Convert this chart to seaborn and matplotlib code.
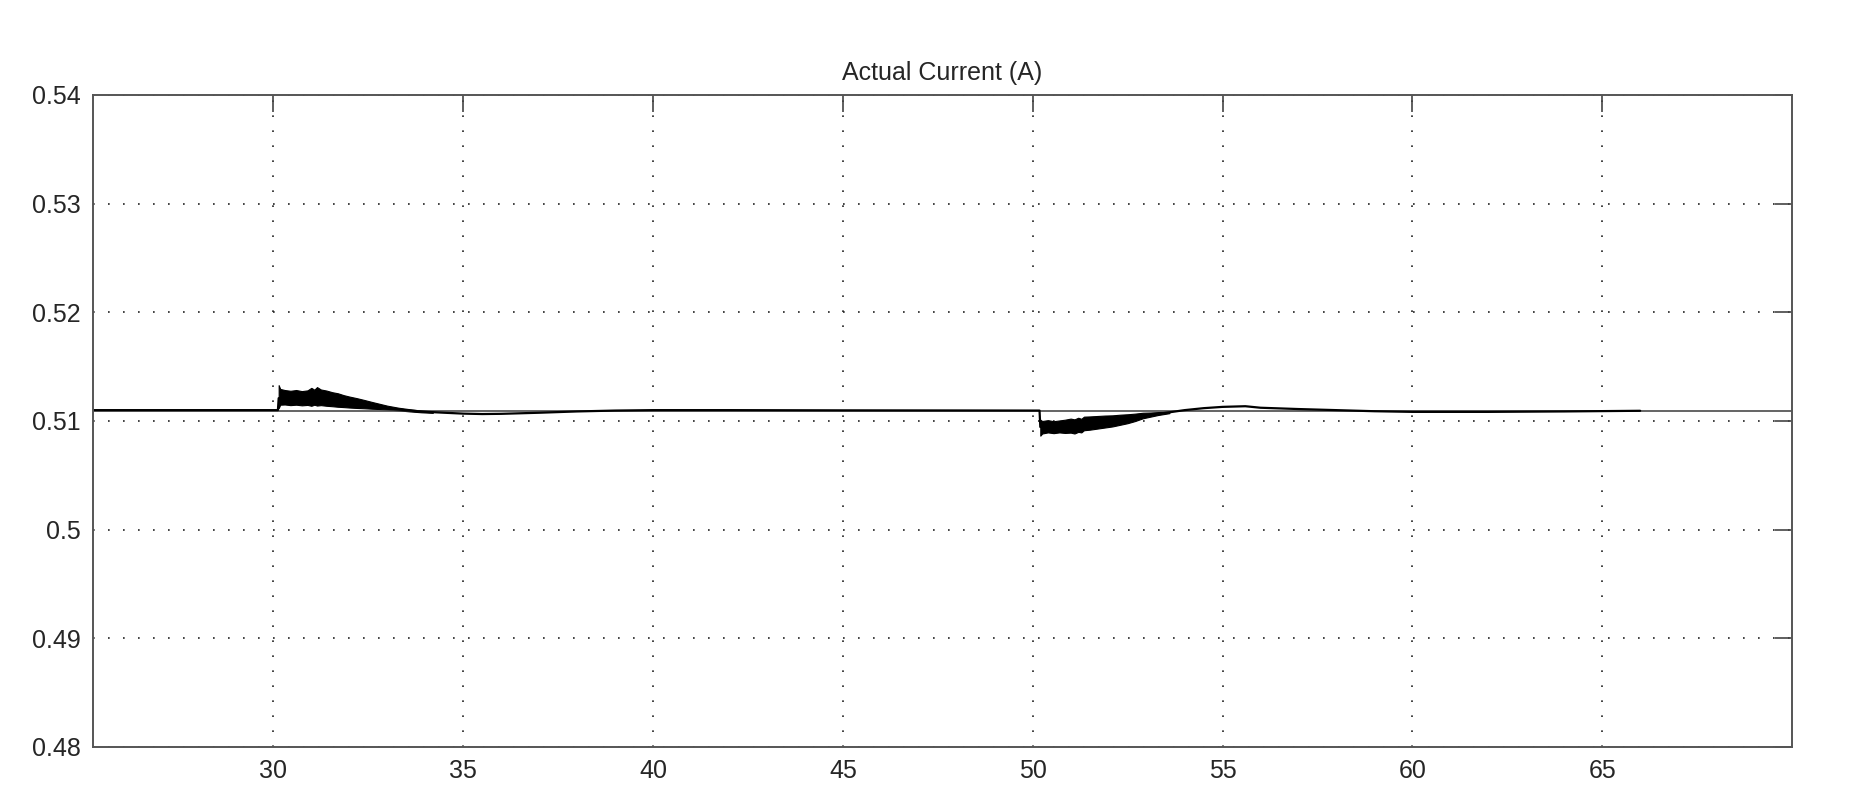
import matplotlib
matplotlib.use("Agg")
import matplotlib.pyplot as plt
import pandas as pd
import seaborn as sns

# measured current (centre of the trace)
t_trace = [25.25, 30.12, 30.14, 30.5, 31.0, 31.5, 32.0, 32.5, 33.0, 33.5, 34.0,
           34.5, 35.0, 35.5, 36.0, 37.0, 38.0, 39.0, 40.0, 42.0, 45.0, 48.0,
           50.18, 50.2, 50.5, 51.0, 51.5, 52.0, 52.5, 53.0, 53.5, 54.0, 54.5,
           55.0, 55.6, 56.0, 57.0, 58.0, 59.0, 60.0, 62.0, 64.0, 66.0]
i_trace = [0.51100, 0.51100, 0.51210, 0.51210, 0.51225, 0.51190, 0.51160,
           0.51135, 0.51118, 0.51098, 0.51085, 0.51076, 0.51068, 0.51064,
           0.51066, 0.51076, 0.51088, 0.51096, 0.51100, 0.51100, 0.51098,
           0.51097, 0.51096, 0.50945, 0.50945, 0.50960, 0.50990, 0.51005,
           0.51025, 0.51050, 0.51075, 0.51100, 0.51118, 0.51130, 0.51136,
           0.51122, 0.51110, 0.51100, 0.51090, 0.51084, 0.51084, 0.51088,
           0.51094]

# steady level line over the whole window
t_level = [25.25, 70.0]
i_level = [0.51095, 0.51095]

# ripple envelope after the step at 30 s
t_rip1 = [30.14, 30.18, 30.3, 30.45, 30.6, 30.75, 30.9, 31.0, 31.08, 31.15,
          31.25, 31.4, 31.55, 31.7, 31.85, 32.0, 32.2, 32.4, 32.6, 32.8,
          33.0, 33.3, 33.6, 33.9, 34.2]
hi_rip1 = [0.51330, 0.51295, 0.51285, 0.51278, 0.51285, 0.51275, 0.51282,
           0.51305, 0.51288, 0.51312, 0.51290, 0.51280, 0.51265, 0.51255,
           0.51238, 0.51225, 0.51210, 0.51193, 0.51175, 0.51158, 0.51141,
           0.51122, 0.51108, 0.51096, 0.51088]
lo_rip1 = [0.51118, 0.51150, 0.51152, 0.51146, 0.51150, 0.51144, 0.51148,
           0.51140, 0.51150, 0.51142, 0.51146, 0.51140, 0.51136, 0.51131,
           0.51128, 0.51124, 0.51120, 0.51117, 0.51113, 0.51110, 0.51106,
           0.51098, 0.51088, 0.51080, 0.51075]

# ripple envelope after the step at 50 s
t_rip2 = [50.2, 50.25, 50.4, 50.55, 50.7, 50.85, 51.0, 51.1, 51.2, 51.28,
          51.35, 51.5, 51.7, 51.9, 52.1, 52.3, 52.5, 52.7, 52.9, 53.1,
          53.3, 53.6]
hi_rip2 = [0.51012, 0.51000, 0.51008, 0.50998, 0.51005, 0.51012, 0.51022,
           0.51015, 0.51030, 0.51020, 0.51040, 0.51042, 0.51046, 0.51050,
           0.51052, 0.51058, 0.51062, 0.51068, 0.51076, 0.51078, 0.51082,
           0.51088]
lo_rip2 = [0.50865, 0.50885, 0.50895, 0.50888, 0.50895, 0.50890, 0.50893,
           0.50885, 0.50900, 0.50895, 0.50915, 0.50920, 0.50930, 0.50940,
           0.50950, 0.50965, 0.50980, 0.51000, 0.51025, 0.51040, 0.51055,
           0.51072]

x_ticks = [30, 35, 40, 45, 50, 55, 60, 65]
y_ticks = [0.48, 0.49, 0.50, 0.51, 0.52, 0.53, 0.54]
y_ticklabels = ["0.48", "0.49", "0.5", "0.51", "0.52", "0.53", "0.54"]

sns.set_style("white")
plt.rcParams["font.family"] = ["Liberation Sans", "DejaVu Sans"]

fig = plt.figure(figsize=(18.64, 8), dpi=100)
ax = fig.add_axes([0.0499, 0.06625, 0.9115, 0.815])

level = pd.DataFrame({"t": t_level, "i": i_level})
trace = pd.DataFrame({"t": t_trace, "i": i_trace})
sns.lineplot(data=level, x="t", y="i", ax=ax, color="#3a3a3a", lw=1.1,
             estimator=None, sort=False)
sns.lineplot(data=trace, x="t", y="i", ax=ax, color="black", lw=1.6,
             estimator=None, sort=False)
ax.fill_between(t_rip1, lo_rip1, hi_rip1, color="black", lw=0.8)
ax.fill_between(t_rip2, lo_rip2, hi_rip2, color="black", lw=0.8)

ax.set_xlim(25.25, 70.0)
ax.set_ylim(0.48, 0.54)
ax.set_xticks(x_ticks)
ax.set_xticklabels([str(v) for v in x_ticks])
ax.set_yticks(y_ticks)
ax.set_yticklabels(y_ticklabels)
ax.set_xlabel("")
ax.set_ylabel("")

ax.grid(True, color="#222222", lw=1.2, linestyle=(0, (1, 8)))
ax.tick_params(direction="in", length=12, width=1.2, color="#444444",
               top=True, right=True, labelsize=18, pad=9)
for s in ax.spines.values():
    s.set_color("#555555")
    s.set_linewidth(1.4)

ax.set_title("Actual Current (A)", fontsize=18, pad=11)

fig.savefig("out.png", dpi=100)
